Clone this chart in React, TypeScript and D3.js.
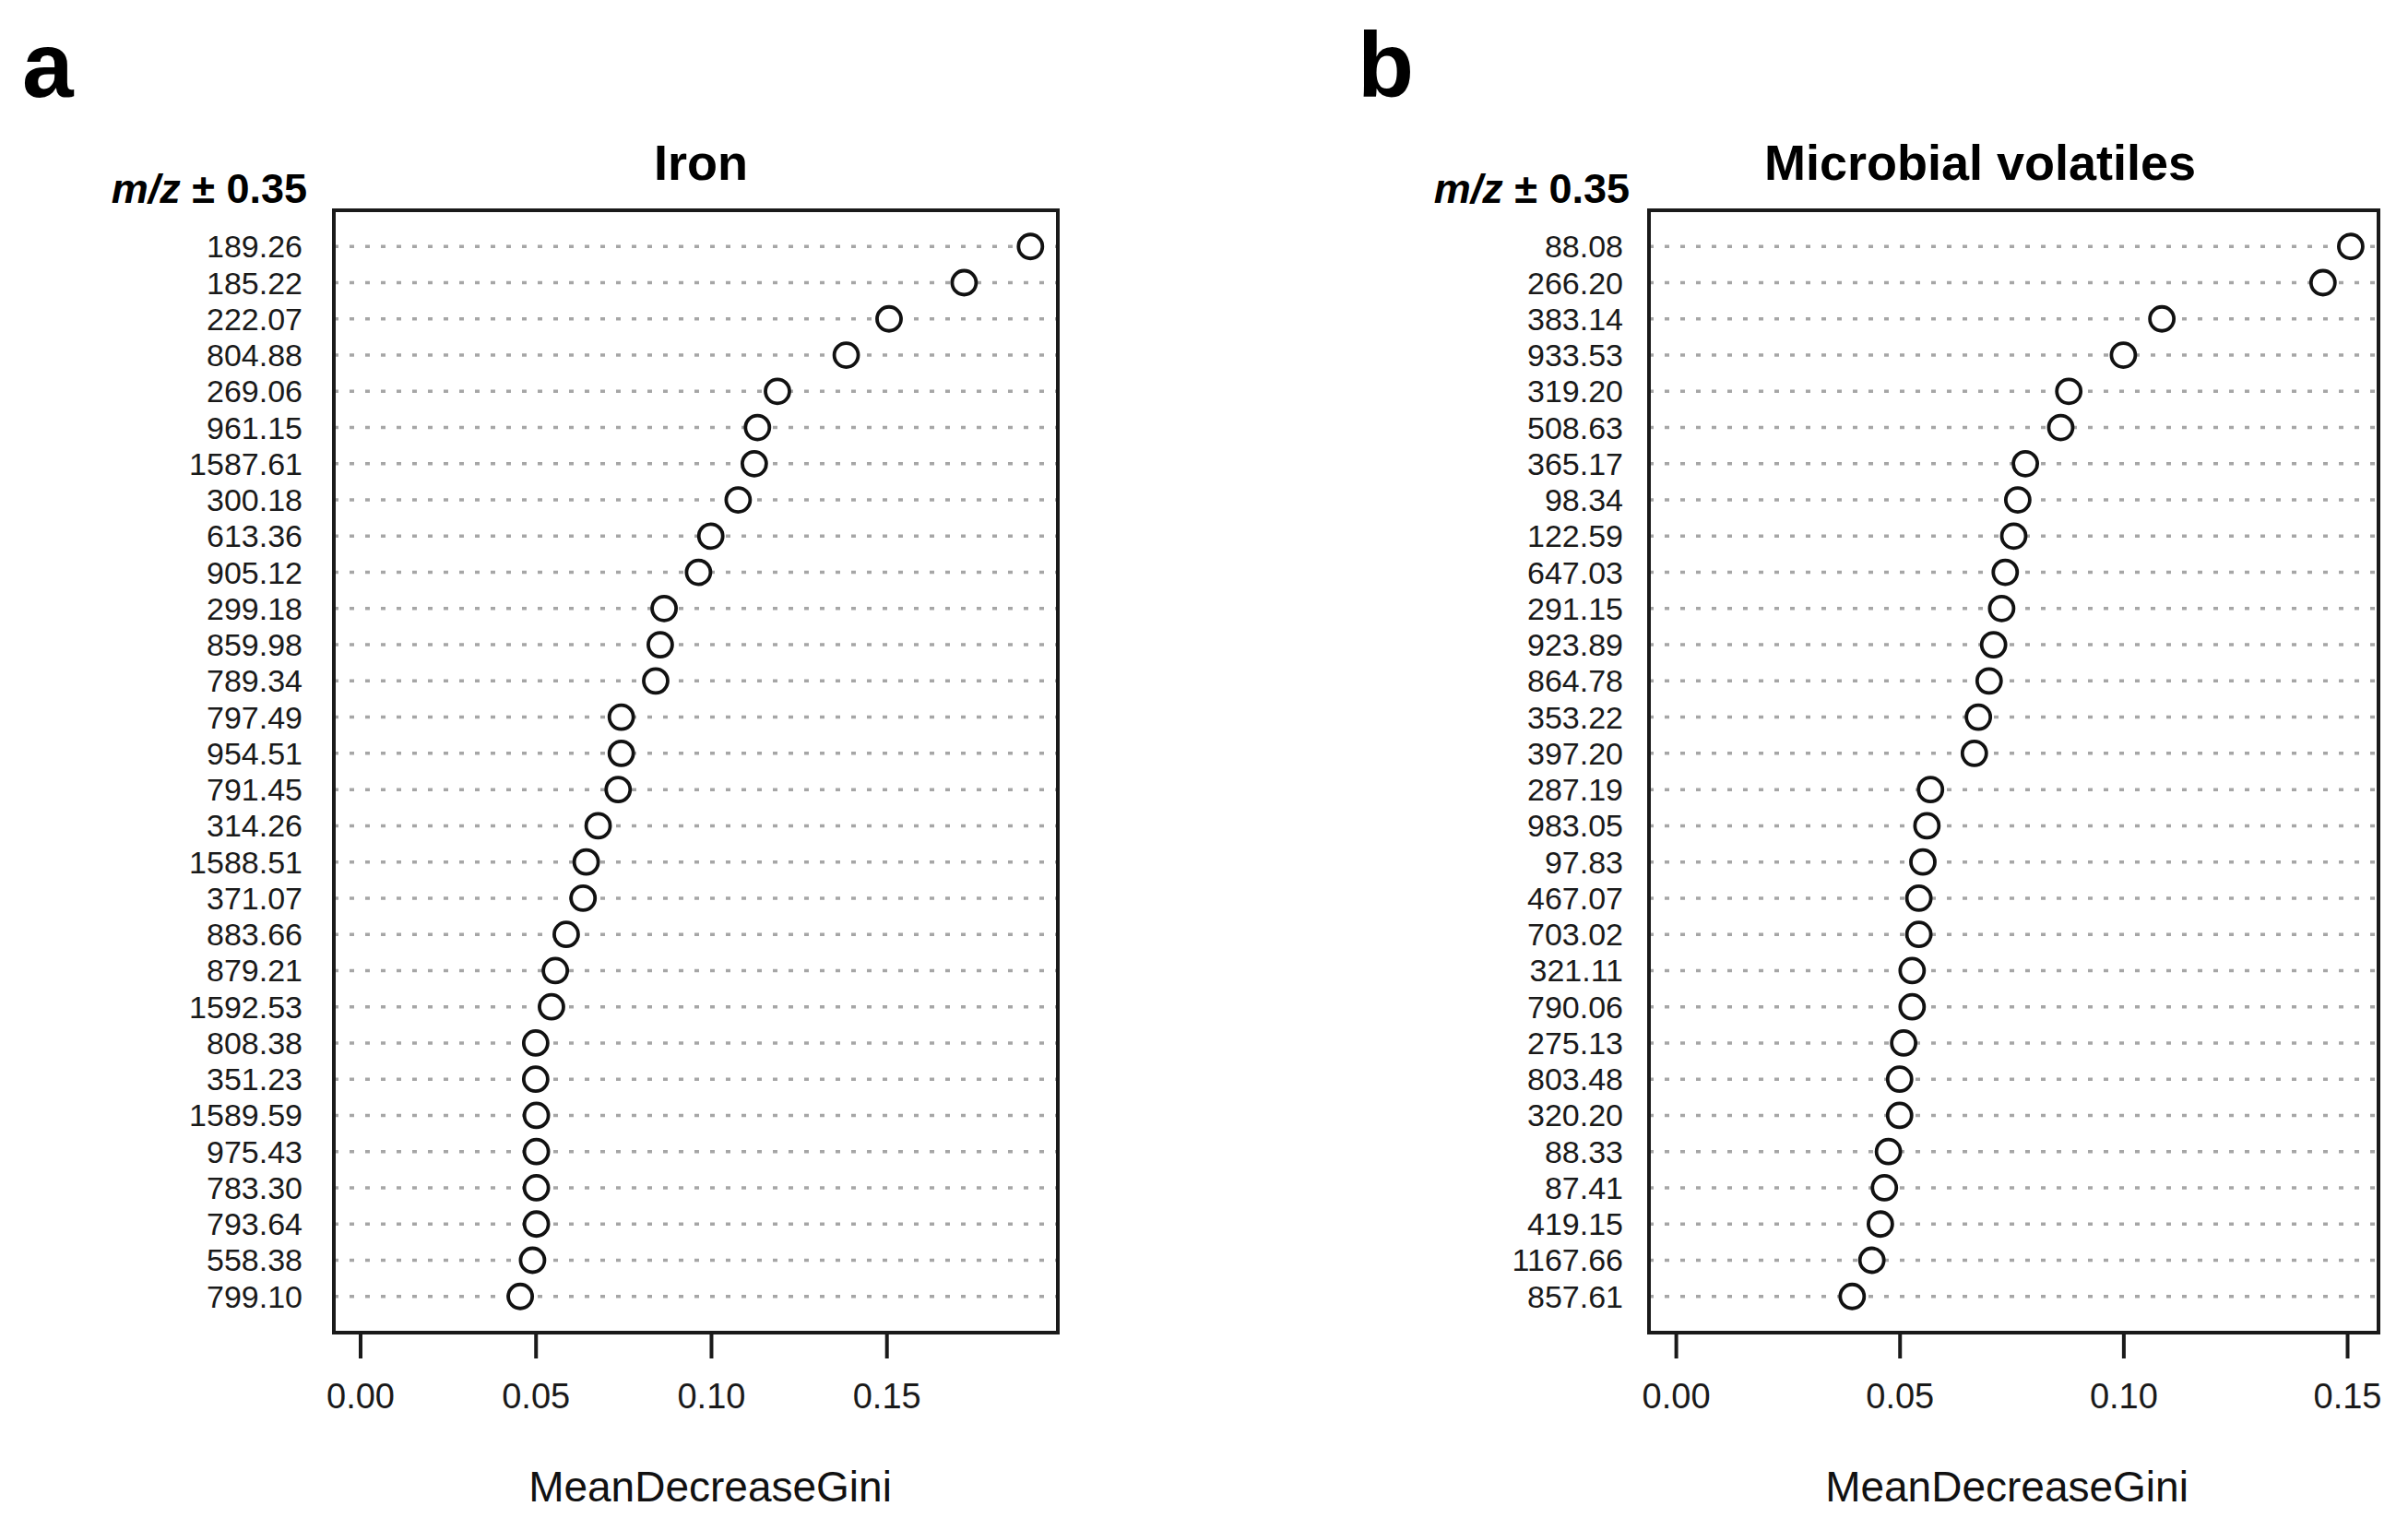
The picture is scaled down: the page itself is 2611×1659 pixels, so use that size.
import * as d3 from "d3";

const W = 2611;
const H = 1659;
const FONT = "'Liberation Sans', Arial, Helvetica, sans-serif";

// panel a: Iron
const ironLabels = [
  "189.26", "185.22", "222.07", "804.88", "269.06", "961.15", "1587.61", "300.18",
  "613.36", "905.12", "299.18", "859.98", "789.34", "797.49", "954.51", "791.45",
  "314.26", "1588.51", "371.07", "883.66", "879.21", "1592.53", "808.38", "351.23",
  "1589.59", "975.43", "783.30", "793.64", "558.38", "799.10",
];
const ironValues = [
  0.1909, 0.172, 0.1506, 0.1384, 0.1188, 0.1131, 0.1122, 0.1076,
  0.0998, 0.0963, 0.0865, 0.0854, 0.0841, 0.0743, 0.0743, 0.0734,
  0.0677, 0.0643, 0.0634, 0.0586, 0.0555, 0.0544, 0.0499, 0.0499,
  0.0501, 0.0501, 0.0501, 0.0501, 0.049, 0.0455,
];

// panel b: Microbial volatiles
const volatileLabels = [
  "88.08", "266.20", "383.14", "933.53", "319.20", "508.63", "365.17", "98.34",
  "122.59", "647.03", "291.15", "923.89", "864.78", "353.22", "397.20", "287.19",
  "983.05", "97.83", "467.07", "703.02", "321.11", "790.06", "275.13", "803.48",
  "320.20", "88.33", "87.41", "419.15", "1167.66", "857.61",
];
const volatileValues = [
  0.1507, 0.1445, 0.1085, 0.0999, 0.0877, 0.0859, 0.078, 0.0763,
  0.0754, 0.0735, 0.0727, 0.0709, 0.0699, 0.0675, 0.0666, 0.0568,
  0.056, 0.0551, 0.0542, 0.0542, 0.0527, 0.0527, 0.0508, 0.0499,
  0.0499, 0.0474, 0.0465, 0.0456, 0.0437, 0.0393,
];

const xTicks = [0, 0.05, 0.1, 0.15];

type PanelProps = {
  letter: string;
  letterX: number;
  title: string;
  titleX: number;
  xlabX: number;
  labels: string[];
  values: number[];
  left: number;
  right: number;
  domain: [number, number];
  labelGap: number;
  mzX: number;
};

const TOP = 228;
const BOTTOM = 1445;

const Panel = ({ letter, letterX, title, titleX, xlabX, labels, values, left, right, domain, labelGap, mzX }: PanelProps) => {
  const n = labels.length;
  const xScale = d3.scaleLinear().domain(domain).range([left, right]);
  // rows sit at 1..n, first row on top (like R's dotchart)
  const yScale = d3.scaleLinear().domain([0, n + 1]).range([BOTTOM, TOP]);
  const fmt = d3.format(".2f");

  return (
    <g fontFamily={FONT}>
      <text x={letterX} y={105} fontSize={100} fontWeight="bold" fill="#000">
        {letter}
      </text>
      <text x={titleX} y={195} fontSize={54} fontWeight="bold" textAnchor="middle" fill="#000">
        {title}
      </text>
      <text x={mzX} y={220} fontSize={45} fontWeight="bold" textAnchor="end" fill="#000">
        <tspan fontStyle="italic">m/z</tspan>
        <tspan> ± 0.35</tspan>
      </text>

      {/* dotted guide lines */}
      {labels.map((lab, i) => {
        const y = yScale(n - i);
        return (
          <line
            key={"g" + lab + i}
            x1={left}
            x2={right}
            y1={y}
            y2={y}
            stroke="#a6a6a6"
            strokeWidth={3.5}
            strokeDasharray="5 12"
          />
        );
      })}

      {/* row labels */}
      {labels.map((lab, i) => (
        <text
          key={"l" + lab + i}
          x={left - labelGap}
          y={yScale(n - i) + 12}
          fontSize={34}
          textAnchor="end"
          fill="#1a1a1a"
        >
          {lab}
        </text>
      ))}

      {/* points */}
      {values.map((v, i) => (
        <circle
          key={"p" + i}
          cx={xScale(v)}
          cy={yScale(n - i)}
          r={13}
          fill="#fff"
          stroke="#111"
          strokeWidth={3.8}
        />
      ))}

      <rect x={left} y={TOP} width={right - left} height={BOTTOM - TOP} fill="none" stroke="#1a1a1a" strokeWidth={4} />

      {/* x axis */}
      {xTicks.map((t) => (
        <g key={"t" + t}>
          <line x1={xScale(t)} x2={xScale(t)} y1={BOTTOM} y2={BOTTOM + 28} stroke="#1a1a1a" strokeWidth={4} />
          <text x={xScale(t)} y={1527} fontSize={38} textAnchor="middle" fill="#1a1a1a">
            {fmt(t)}
          </text>
        </g>
      ))}
      <text x={xlabX} y={1628} fontSize={46} textAnchor="middle" fill="#111">
        MeanDecreaseGini
      </text>
    </g>
  );
};

export default function App() {
  return (
    <svg
      width={W}
      height={H}
      viewBox={`0 0 ${W} ${H}`}
      style={{ position: "absolute", left: 0, top: 0, background: "#fff" }}
    >
      <rect width={W} height={H} fill="#fff" />
      <Panel
        letter="a"
        letterX={24}
        title="Iron"
        titleX={760}
        xlabX={770}
        labels={ironLabels}
        values={ironValues}
        left={362}
        right={1147}
        domain={[-0.00762, 0.1987]}
        labelGap={34}
        mzX={333}
      />
      <Panel
        letter="b"
        letterX={1472}
        title="Microbial volatiles"
        titleX={2147}
        xlabX={2176}
        labels={volatileLabels}
        values={volatileValues}
        left={1788}
        right={2579}
        domain={[-0.0061, 0.1569]}
        labelGap={28}
        mzX={1767}
      />
    </svg>
  );
}
